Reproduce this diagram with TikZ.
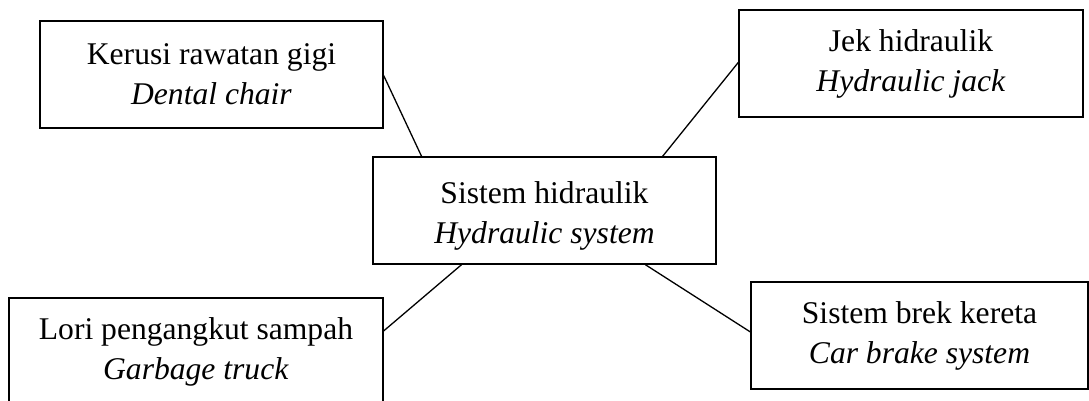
\documentclass[tikz,border=0pt]{standalone}
\usepackage{fontspec}
\setmainfont{Liberation Serif}
\usetikzlibrary{calc}
\newcommand{\boxfont}{\fontsize{31.6}{40}\selectfont}
\begin{document}
\begin{tikzpicture}[x=1pt,y=-1pt]
\tikzset{
  box/.style={draw, line width=1.4pt, inner sep=0pt, align=center, font=\boxfont, minimum height=107pt},
  link/.style={line width=1.3pt}
}
\useasboundingbox (0,0) rectangle (1089,401);
\begin{scope}
\clip (0,0) rectangle (1089,401);
\node[box, minimum width=343pt] (tl) at (211.5,74.5) {Kerusi rawatan gigi\\\textit{Dental chair}};
\node[box, minimum width=344pt] (tr) at (911,63.5) {Jek hidraulik\\\textit{Hydraulic jack}};
\node[box, minimum width=343pt] (c) at (544.5,210.5) {\rule{0pt}{32pt}Sistem hidraulik\\\textit{Hydraulic system}};
\node[box, minimum width=374pt] (bl) at (196,351.5) {Lori pengangkut sampah\\\textit{Garbage truck}};
\node[box, minimum width=337pt] (br) at (919.5,335.5) {Sistem brek kereta\\\textit{Car brake system}};
\draw[link] ($(tl.north east)!0.51!(tl.south east)$) -- ($(c.north west)!0.143!(c.north east)$);
\draw[link] ($(tr.north west)!0.49!(tr.south west)$) -- ($(c.north west)!0.843!(c.north east)$);
\draw[link] ($(c.south west)!0.259!(c.south east)$) -- ($(bl.north east)!0.31!(bl.south east)$);
\draw[link] ($(c.south west)!0.793!(c.south east)$) -- ($(br.north west)!0.467!(br.south west)$);
\end{scope}
\end{tikzpicture}
\end{document}
